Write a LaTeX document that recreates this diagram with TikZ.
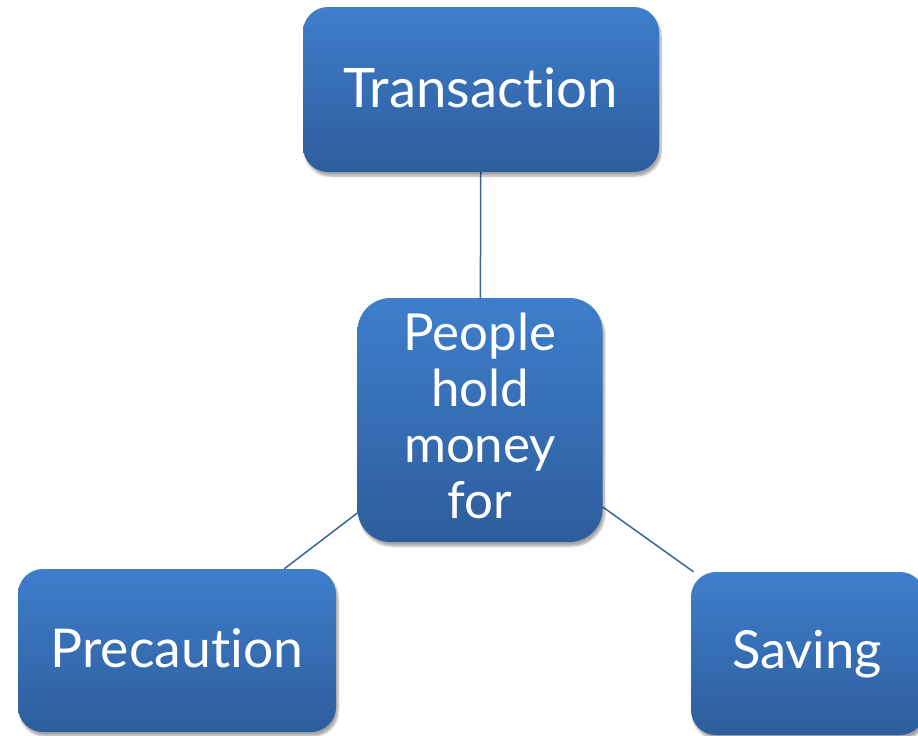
\documentclass[tikz,border=0pt]{standalone}
\usepackage{fontspec}
\setmainfont{Lato}[Ligatures=NoCommon]
\usetikzlibrary{shadows.blur,backgrounds}
\definecolor{boxtop}{RGB}{62,126,203}
\definecolor{boxbot}{RGB}{46,93,156}
\definecolor{linkc}{RGB}{60,100,150}
\tikzset{
  box/.style={rectangle, rounded corners=25pt, top color=boxtop, bottom color=boxbot, draw=none,
    blur shadow={shadow xshift=2pt, shadow yshift=-4pt, shadow blur steps=6, shadow opacity=35}},
  txt/.style={text=white, inner sep=0pt, anchor=base},
  ctxt/.style={txt, font=\fontsize{51}{56}\selectfont},
  link/.style={draw=linkc, line width=1.5pt}
}
\begin{document}
\begin{tikzpicture}[x=1pt,y=-1pt]
\useasboundingbox (0,0) rectangle (918,736);
\node[box, minimum width=356pt, minimum height=165pt] (tr) at (481,89.5) {};
\node[box, rounded corners=33pt, minimum width=245pt, minimum height=244pt] (c) at (480,420) {};
\node[box, minimum width=318pt, minimum height=163pt] (pr) at (177,650.5) {};
\node[box, minimum width=234pt, minimum height=163pt] (sv) at (808,653.5) {};
\node[txt, font=\fontsize{54.5}{66}\selectfont] (trt) at (480.5,107) {Transaction};
\node[txt, font=\fontsize{53.5}{62}\selectfont] (prt) at (177,667) {Precaution};
\node[txt, font=\fontsize{52.5}{60}\selectfont] (svt) at (807,668) {Saving};
\node[ctxt] (c1) at (480,350) {People};
\node[ctxt] (c2) at (480,406) {hold};
\node[ctxt] (c3) at (480,462) {money};
\node[ctxt] (c4) at (480,518) {for};
\begin{pgfonlayer}{background}
\draw[link] (tr) -- (c);
\draw[link] (c) -- (pr);
\draw[link] (c) -- (sv);
\end{pgfonlayer}
\end{tikzpicture}
\end{document}
